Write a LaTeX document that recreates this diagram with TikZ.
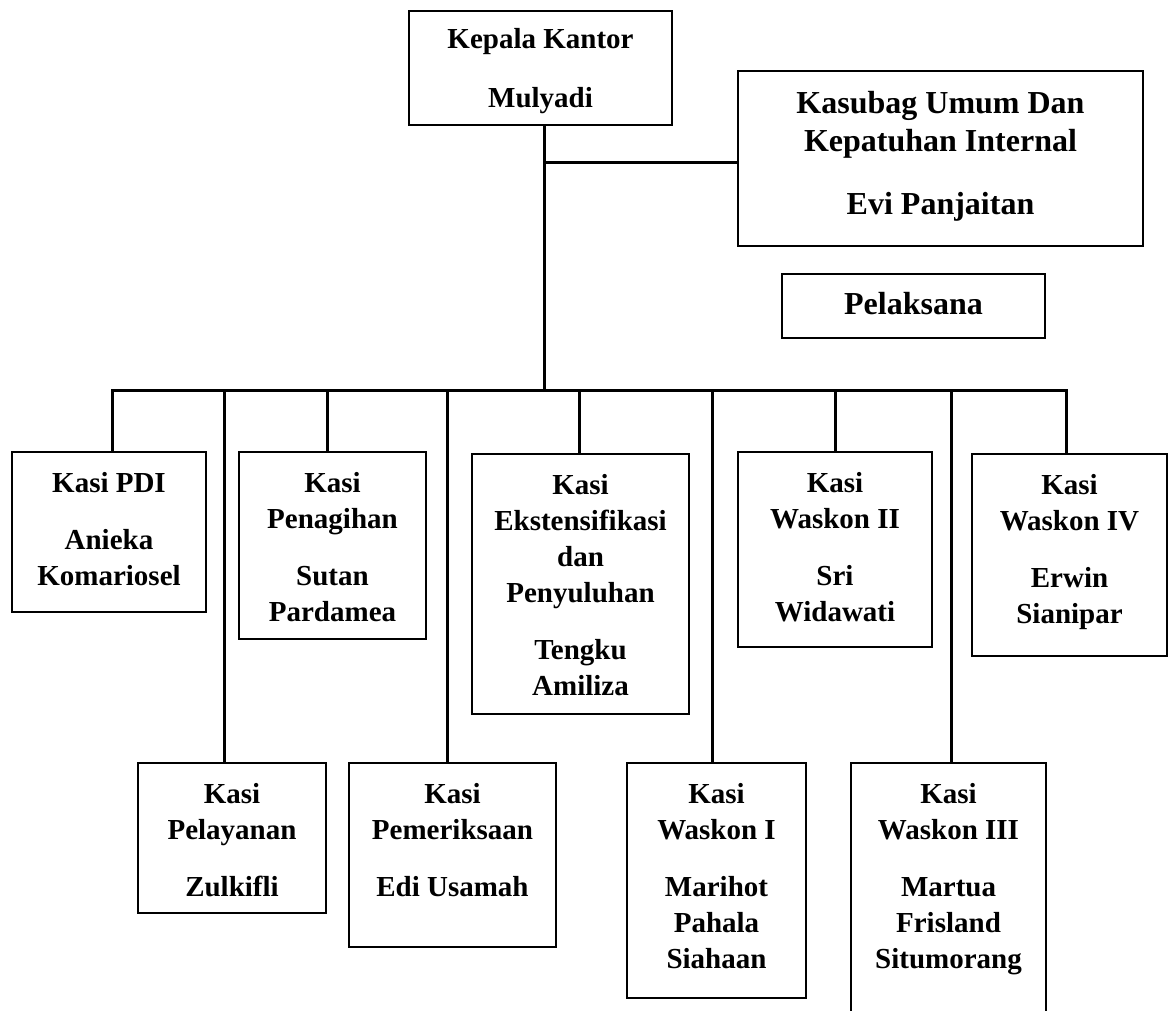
\documentclass[tikz,border=0pt]{standalone}
\usepackage{fontspec}
\setmainfont{Liberation Serif}
\newcommand{\unittext}[4][20pt]{\parbox[c][#3][t]{#2}{\centering\rule{0pt}{#1}#4}}

\begin{document}
\begin{tikzpicture}[
  x=0.5pt,y=-0.5pt,
  unit/.style={draw,line width=1pt,inner sep=0pt,anchor=north west,
    font=\bfseries\fontsize{14.5pt}{18pt}\selectfont},
  bigunit/.style={unit,font=\bfseries\fontsize{16pt}{19pt}\selectfont},
  conn/.style={draw,line width=1.5pt,line cap=rect}
    ]
    \useasboundingbox (0,0) rectangle (1170,1010);
    \clip (0,0) rectangle (1170,1010);
    % head and staff
    \node[unit] (kk) at (408,10) {\unittext[18.75pt]{131.5pt}{57pt}{Kepala Kantor\\[11.5pt] Mulyadi}};
    \node[bigunit] (ks) at (737,70) {\unittext[21.3pt]{202.5pt}{87.5pt}{Kasubag Umum Dan\\ Kepatuhan Internal\\[12.5pt] Evi Panjaitan}};
    \node[bigunit] (pl) at (781,273) {\unittext[20.3pt]{131.5pt}{32pt}{Pelaksana}};
    % upper row
    \node[unit] (pdi) at (11,451) {\unittext{97pt}{80pt}{Kasi PDI\\[10.75pt] Anieka\\ Komariosel}};
    \node[unit] (pn) at (238,451) {\unittext{93.5pt}{93.5pt}{Kasi\\ Penagihan\\[10.75pt] Sutan\\ Pardamea}};
    \node[unit] (ek) at (471,453) {\unittext{108.5pt}{130pt}{Kasi\\ Ekstensifikasi\\ dan\\ Penyuluhan\\[10.75pt] Tengku\\ Amiliza}};
    \node[unit] (w2) at (737,451) {\unittext{97pt}{97.5pt}{Kasi\\ Waskon II\\[10.75pt] Sri\\ Widawati}};
    \node[unit] (w4) at (971,453) {\unittext{97.5pt}{101pt}{Kasi\\ Waskon IV\\[10.75pt] Erwin\\ Sianipar}};
    % lower row
    \node[unit] (pv) at (137,762) {\unittext{94pt}{75pt}{Kasi\\ Pelayanan\\[10.75pt] Zulkifli}};
    \node[unit] (pm) at (348,762) {\unittext{103.5pt}{92pt}{Kasi\\ Pemeriksaan\\[10.75pt] Edi Usamah}};
    \node[unit] (w1) at (626,762) {\unittext{89.5pt}{117.5pt}{Kasi\\ Waskon I\\[10.75pt] Marihot\\ Pahala\\ Siahaan}};
    \node[unit] (w3) at (850,762) {\unittext{97.5pt}{140pt}{Kasi\\ Waskon III\\[10.75pt] Martua\\ Frisland\\ Situmorang}};
    \coordinate (bar) at (0,390);
    \coordinate (jn) at ([xshift=1.75pt]kk.south |- 0,163);
    \path ([xshift=1.75pt]kk.south) edge[conn] ([xshift=1.75pt]kk.south |- bar)
    (jn) edge[conn] (jn -| ks.west)
    ([xshift=1.5pt]pdi.north |- bar) edge[conn] ([xshift=-1.5pt]w4.north |- bar)
    ([xshift=1.5pt]pdi.north) edge[conn] ([xshift=1.5pt]pdi.north |- bar)
    ([xshift=-4pt]pv.north) edge[conn] ([xshift=-4pt]pv.north |- bar)
    ([xshift=-2.75pt]pn.north) edge[conn] ([xshift=-2.75pt]pn.north |- bar)
    ([xshift=-2.5pt]pm.north) edge[conn] ([xshift=-2.5pt]pm.north |- bar)
    ([xshift=-0.75pt]ek.north) edge[conn] ([xshift=-0.75pt]ek.north |- bar)
    ([xshift=-2pt]w1.north) edge[conn] ([xshift=-2pt]w1.north |- bar)
    (w2.north) edge[conn] (w2.north |- bar)
    ([xshift=1.5pt]w3.north) edge[conn] ([xshift=1.5pt]w3.north |- bar)
    ([xshift=-1.5pt]w4.north) edge[conn] ([xshift=-1.5pt]w4.north |- bar);
    \end{tikzpicture}
\end{document}
